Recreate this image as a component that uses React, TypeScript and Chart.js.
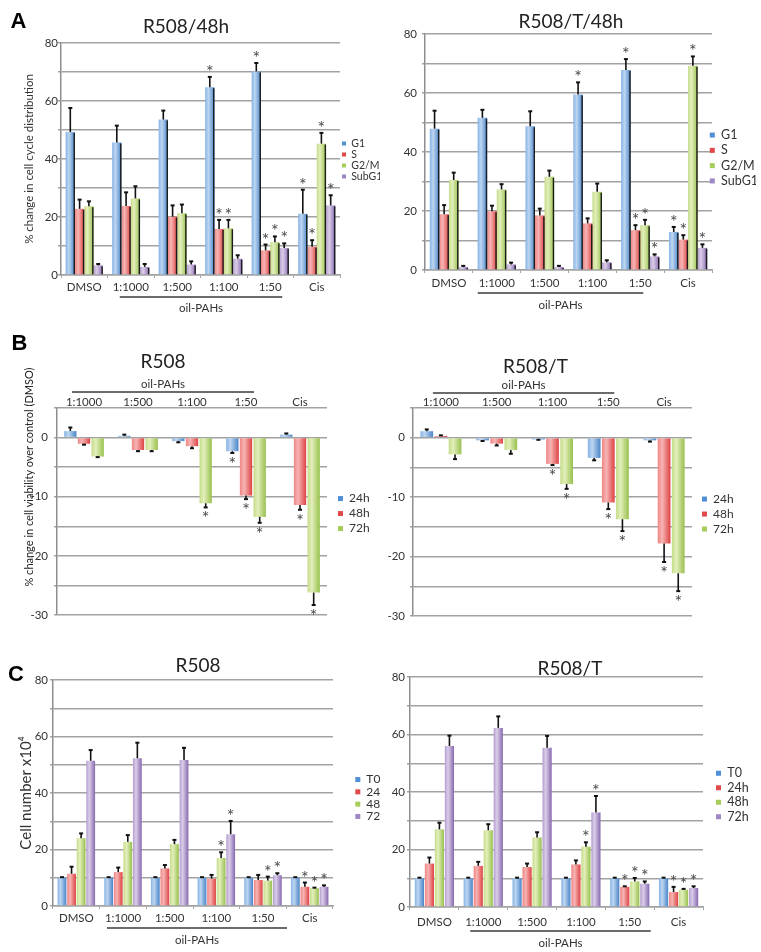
import React, { useEffect, useRef } from 'react';
import { Chart, registerables } from 'chart.js';

Chart.register(...registerables);

const FONT = 'Lato, "Open Sans", "Noto Sans", sans-serif';
Chart.defaults.font.family = FONT;

// ---------------- DATA ----------------
const CELL_CYCLE_CATEGORIES = ['DMSO', '1:1000', '1:500', '1:100', '1:50', 'Cis'];
const VIABILITY_CATEGORIES = ['1:1000', '1:500', '1:100', '1:50', 'Cis'];
const CELL_NUMBER_CATEGORIES = ['DMSO', '1:1000', '1:500', '1:100', '1:50', 'Cis'];

const CYCLE_SERIES = ['G1', 'S', 'G2/M', 'SubG1'];
const VIABILITY_SERIES = ['24h', '48h', '72h'];
const NUMBER_SERIES = ['T0', '24h', '48h', '72h'];

const CYCLE_TICKS = [0, 20, 40, 60, 80];
const VIABILITY_TICKS = [0, -10, -20, -30];
const NUMBER_TICKS = [0, 20, 40, 60, 80];

// A: R508/48h
const R508_CYCLE_G1 = [49.3, 45.7, 53.6, 64.7, 70.2, 21.1];
const R508_CYCLE_G1_ERR = [8.3, 5.8, 3.1, 3.6, 2.9, 8.3];
const R508_CYCLE_G1_SIG = [0, 0, 0, 1, 1, 1];
const R508_CYCLE_S = [22.8, 23.8, 20.1, 15.9, 8.5, 9.7];
const R508_CYCLE_S_ERR = [3.2, 4.7, 3.9, 3.1, 2.0, 2.3];
const R508_CYCLE_S_SIG = [0, 0, 0, 1, 1, 1];
const R508_CYCLE_G2M = [23.7, 26.4, 21.3, 16.1, 11.3, 45.3];
const R508_CYCLE_G2M_ERR = [1.7, 4.2, 3.0, 2.9, 2.0, 3.7];
const R508_CYCLE_G2M_SIG = [0, 0, 0, 1, 1, 1];
const R508_CYCLE_SUBG1 = [3.3, 2.8, 3.6, 5.6, 9.3, 24.0];
const R508_CYCLE_SUBG1_ERR = [0.5, 1.0, 1.1, 1.2, 1.6, 3.5];
const R508_CYCLE_SUBG1_SIG = [0, 0, 0, 0, 1, 1];

// A: R508/T/48h
const R508T_CYCLE_G1 = [47.9, 51.6, 48.7, 59.5, 67.8, 12.9];
const R508T_CYCLE_G1_ERR = [6.1, 2.7, 5.1, 4.1, 3.7, 1.7];
const R508T_CYCLE_G1_SIG = [0, 0, 0, 1, 1, 1];
const R508T_CYCLE_S = [18.9, 19.9, 18.5, 15.8, 13.5, 10.3];
const R508T_CYCLE_S_ERR = [3.1, 1.9, 2.3, 1.7, 1.7, 1.5];
const R508T_CYCLE_S_SIG = [0, 0, 0, 0, 1, 1];
const R508T_CYCLE_G2M = [30.5, 27.3, 31.6, 26.5, 15.2, 69.2];
const R508T_CYCLE_G2M_ERR = [2.5, 1.8, 2.1, 2.8, 1.8, 3.2];
const R508T_CYCLE_G2M_SIG = [0, 0, 0, 0, 1, 1];
const R508T_CYCLE_SUBG1 = [1.0, 1.9, 1.0, 2.6, 4.6, 7.5];
const R508T_CYCLE_SUBG1_ERR = [0.4, 0.6, 0.4, 0.7, 0.7, 1.2];
const R508T_CYCLE_SUBG1_SIG = [0, 0, 0, 0, 1, 1];

// B: R508 viability
const R508_VIA_24H = [1.1, 0.3, -0.6, -2.3, 0.5];
const R508_VIA_24H_ERR = [0.6, 0.2, 0.2, 0.3, 0.2];
const R508_VIA_24H_SIG = [0, 0, 0, 1, 0];
const R508_VIA_48H = [-1.05, -2.1, -1.45, -9.8, -11.4];
const R508_VIA_48H_ERR = [0.15, 0.2, 0.35, 0.6, 0.8];
const R508_VIA_48H_SIG = [0, 0, 0, 1, 1];
const R508_VIA_72H = [-3.2, -2.1, -11.1, -13.4, -26.2];
const R508_VIA_72H_ERR = [0.1, 0.2, 0.7, 1.0, 2.1];
const R508_VIA_72H_SIG = [0, 0, 1, 1, 1];

// B: R508/T viability
const R508T_VIA_24H = [1.1, -0.45, -0.3, -3.4, -0.45];
const R508T_VIA_24H_ERR = [0.3, 0.1, 0.05, 0.4, 0.2];
const R508T_VIA_24H_SIG = [0, 0, 0, 0, 0];
const R508T_VIA_48H = [0.3, -1.0, -4.4, -10.9, -17.8];
const R508T_VIA_48H_ERR = [0.1, 0.3, 0.2, 1.1, 3.1];
const R508T_VIA_48H_SIG = [0, 0, 1, 1, 1];
const R508T_VIA_72H = [-2.8, -2.05, -7.8, -13.7, -22.8];
const R508T_VIA_72H_ERR = [0.8, 0.65, 0.8, 2.0, 3.0];
const R508T_VIA_72H_SIG = [0, 0, 1, 1, 1];

// C: R508 cell number
const R508_NUM_T0 = [10, 10, 10, 10, 10, 10];
const R508_NUM_T0_ERR = [0.2, 0.2, 0.2, 0.2, 0.2, 0.2];
const R508_NUM_T0_SIG = [0, 0, 0, 0, 0, 0];
const R508_NUM_24H = [11.4, 12.0, 13.3, 9.7, 9.2, 6.8];
const R508_NUM_24H_ERR = [2.5, 1.6, 1.2, 1.3, 1.8, 1.5];
const R508_NUM_24H_SIG = [0, 0, 0, 0, 0, 1];
const R508_NUM_48H = [24.0, 22.7, 21.9, 17.0, 9.0, 6.3];
const R508_NUM_48H_ERR = [1.7, 2.4, 1.5, 2.0, 1.4, 0.2];
const R508_NUM_48H_SIG = [0, 0, 0, 1, 1, 1];
const R508_NUM_72H = [51.4, 52.3, 51.7, 25.4, 10.9, 6.8];
const R508_NUM_72H_ERR = [3.8, 5.5, 4.3, 4.7, 0.7, 0.5];
const R508_NUM_72H_SIG = [0, 0, 0, 1, 1, 1];

// C: R508/T cell number
const R508T_NUM_T0 = [10, 10, 10, 10, 10, 10];
const R508T_NUM_T0_ERR = [0.2, 0.2, 0.2, 0.2, 0.2, 0.2];
const R508T_NUM_T0_SIG = [0, 0, 0, 0, 0, 0];
const R508T_NUM_24H = [15.1, 14.3, 13.9, 14.8, 7.0, 5.2];
const R508T_NUM_24H_ERR = [2.1, 1.4, 1.2, 1.4, 0.2, 1.8];
const R508T_NUM_24H_SIG = [0, 0, 0, 0, 1, 1];
const R508T_NUM_48H = [27.0, 26.7, 24.2, 21.0, 8.9, 6.0];
const R508T_NUM_48H_ERR = [2.3, 2.1, 1.8, 1.5, 1.2, 0.3];
const R508T_NUM_48H_SIG = [0, 0, 0, 1, 1, 1];
const R508T_NUM_72H = [56.0, 62.3, 55.4, 32.9, 8.1, 6.6];
const R508T_NUM_72H_ERR = [3.6, 4.0, 4.1, 5.7, 0.8, 0.6];
const R508T_NUM_72H_SIG = [0, 0, 0, 1, 1, 1];

// ---------------- STYLE ----------------
const GRADS: Record<string, { legend: string; stops: string[] }> = {
  blue: { legend: '#4f8fd6', stops: ['#86b3e4', '#bdd6f1', '#4a84c8'] },
  red: { legend: '#e04a4a', stops: ['#ee8585', '#f7b4b4', '#de4343'] },
  green: { legend: '#a6cc5a', stops: ['#c4dc88', '#e3efbb', '#98c04e'] },
  purple: { legend: '#9f86c6', stops: ['#b49ecf', '#dacde8', '#8769b0'] },
};
const GRID = '#a2a2a2';
const TEXT = '#333333';

type Series = { label: string; data: number[]; err: number[]; sig: number[]; color: string };
type Spec = {
  x: number; y: number; w: number; h: number;
  area: { L: number; T: number; R: number; B: number };
  labels: string[];
  series: Series[];
  yMin: number; yMax: number; yStep: number; yLabels: number[];
  xPos: 'top' | 'bottom'; xHeight: number; xPad: number; yTickPad: number;
  yTitle?: { text: string; size: number; pad: number };
  catPct: number; barPct: number;
  legend: { font: number; pad: number; box: number; dx: number; dy: number };
  bracket: { from: number; to: number; l: number; r: number; lineOff: number; textOff: number };
  shadow: boolean;
};

const mk = (labels: string[], data: number[][], err: number[][], sig: number[][], colors: string[]): Series[] =>
  labels.map((label, i) => ({ label, data: data[i], err: err[i], sig: sig[i], color: colors[i] }));

const PANELS: Spec[] = [
  {
    x: 0, y: 0, w: 380, h: 320, area: { L: 61, T: 43, R: 340, B: 275 },
    labels: CELL_CYCLE_CATEGORIES,
    series: mk(CYCLE_SERIES,
      [R508_CYCLE_G1, R508_CYCLE_S, R508_CYCLE_G2M, R508_CYCLE_SUBG1],
      [R508_CYCLE_G1_ERR, R508_CYCLE_S_ERR, R508_CYCLE_G2M_ERR, R508_CYCLE_SUBG1_ERR],
      [R508_CYCLE_G1_SIG, R508_CYCLE_S_SIG, R508_CYCLE_G2M_SIG, R508_CYCLE_SUBG1_SIG],
      ['blue', 'red', 'green', 'purple']),
    yMin: 0, yMax: 80, yStep: 10, yLabels: CYCLE_TICKS,
    xPos: 'bottom', xHeight: 20, xPad: 2.5, yTickPad: 0,
    yTitle: { text: '% change in cell cycle distribution', size: 11.5, pad: 22 },
    catPct: 0.8, barPct: 1,
    legend: { font: 10.5, pad: 0.5, box: 4, dx: 1.5, dy: 1 },
    bracket: { from: 1, to: 4, l: -11, r: 12, lineOff: 22, textOff: 33 },
    shadow: true,
  },
  {
    x: 380, y: 0, w: 381, h: 320, area: { L: 425, T: 34, R: 712, B: 270 },
    labels: CELL_CYCLE_CATEGORIES,
    series: mk(CYCLE_SERIES,
      [R508T_CYCLE_G1, R508T_CYCLE_S, R508T_CYCLE_G2M, R508T_CYCLE_SUBG1],
      [R508T_CYCLE_G1_ERR, R508T_CYCLE_S_ERR, R508T_CYCLE_G2M_ERR, R508T_CYCLE_SUBG1_ERR],
      [R508T_CYCLE_G1_SIG, R508T_CYCLE_S_SIG, R508T_CYCLE_G2M_SIG, R508T_CYCLE_SUBG1_SIG],
      ['blue', 'red', 'green', 'purple']),
    yMin: 0, yMax: 80, yStep: 10, yLabels: CYCLE_TICKS,
    xPos: 'bottom', xHeight: 20, xPad: 3, yTickPad: 5,
    catPct: 0.8, barPct: 1,
    legend: { font: 12.5, pad: 2.8, box: 5, dx: -5, dy: 6 },
    bracket: { from: 1, to: 4, l: -19, r: 3, lineOff: 23, textOff: 35 },
    shadow: true,
  },
  {
    x: 0, y: 318, w: 380, h: 310, area: { L: 57, T: 408, R: 327, B: 619 },
    labels: VIABILITY_CATEGORIES,
    series: mk(VIABILITY_SERIES,
      [R508_VIA_24H, R508_VIA_48H, R508_VIA_72H],
      [R508_VIA_24H_ERR, R508_VIA_48H_ERR, R508_VIA_72H_ERR],
      [R508_VIA_24H_SIG, R508_VIA_48H_SIG, R508_VIA_72H_SIG],
      ['blue', 'red', 'green']),
    yMin: -30, yMax: 5, yStep: 5, yLabels: VIABILITY_TICKS,
    xPos: 'top', xHeight: 14, xPad: -1.5, yTickPad: 6,
    catPct: 0.76, barPct: 0.9,
    legend: { font: 12, pad: 3, box: 5, dx: 8, dy: 2 },
    bracket: { from: 0, to: 3, l: -12, r: 8, lineOff: -16, textOff: -24 },
    shadow: false,
  },
  {
    x: 380, y: 318, w: 381, h: 310, area: { L: 413, T: 408, R: 692, B: 619 },
    labels: VIABILITY_CATEGORIES,
    series: mk(VIABILITY_SERIES,
      [R508T_VIA_24H, R508T_VIA_48H, R508T_VIA_72H],
      [R508T_VIA_24H_ERR, R508T_VIA_48H_ERR, R508T_VIA_72H_ERR],
      [R508T_VIA_24H_SIG, R508T_VIA_48H_SIG, R508T_VIA_72H_SIG],
      ['blue', 'red', 'green']),
    yMin: -30, yMax: 5, yStep: 5, yLabels: VIABILITY_TICKS,
    xPos: 'top', xHeight: 14, xPad: -1.5, yTickPad: 5,
    catPct: 0.76, barPct: 0.9,
    legend: { font: 12, pad: 3, box: 5, dx: 7, dy: 2 },
    bracket: { from: 0, to: 3, l: -8, r: 6, lineOff: -15, textOff: -23 },
    shadow: false,
  },
  {
    x: 0, y: 628, w: 380, h: 324, area: { L: 53, T: 680, R: 333, B: 906 },
    labels: CELL_NUMBER_CATEGORIES,
    series: mk(NUMBER_SERIES,
      [R508_NUM_T0, R508_NUM_24H, R508_NUM_48H, R508_NUM_72H],
      [R508_NUM_T0_ERR, R508_NUM_24H_ERR, R508_NUM_48H_ERR, R508_NUM_72H_ERR],
      [R508_NUM_T0_SIG, R508_NUM_24H_SIG, R508_NUM_48H_SIG, R508_NUM_72H_SIG],
      ['blue', 'red', 'green', 'purple']),
    yMin: 0, yMax: 80, yStep: 10, yLabels: NUMBER_TICKS,
    xPos: 'bottom', xHeight: 20, xPad: 2, yTickPad: 2,
    yTitle: { text: 'Cell number x10\u2074', size: 15, pad: 17 },
    catPct: 0.82, barPct: 0.92,
    legend: { font: 12, pad: 0.3, box: 5, dx: 22, dy: 5 },
    bracket: { from: 1, to: 4, l: -16, r: 24, lineOff: 22, textOff: 34 },
    shadow: false,
  },
  {
    x: 380, y: 628, w: 381, h: 324, area: { L: 410, T: 677, R: 703, B: 907 },
    labels: CELL_NUMBER_CATEGORIES,
    series: mk(NUMBER_SERIES,
      [R508T_NUM_T0, R508T_NUM_24H, R508T_NUM_48H, R508T_NUM_72H],
      [R508T_NUM_T0_ERR, R508T_NUM_24H_ERR, R508T_NUM_48H_ERR, R508T_NUM_72H_ERR],
      [R508T_NUM_T0_SIG, R508T_NUM_24H_SIG, R508T_NUM_48H_SIG, R508T_NUM_72H_SIG],
      ['blue', 'red', 'green', 'purple']),
    yMin: 0, yMax: 80, yStep: 10, yLabels: NUMBER_TICKS,
    xPos: 'bottom', xHeight: 20, xPad: 5, yTickPad: 2,
    catPct: 0.82, barPct: 0.92,
    legend: { font: 12.5, pad: 2, box: 5, dx: 11, dy: 3 },
    bracket: { from: 1, to: 4, l: -13, r: 21, lineOff: 24, textOff: 36 },
    shadow: false,
  },
];

type Txt = { t: string; x: number; y: number; size: number; bold?: boolean; rot?: boolean; family?: string };
const TEXTS: Txt[] = [
  { t: 'A', x: 18.5, y: 21, size: 22, bold: true, family: '"Liberation Sans", Arial, sans-serif' },
  { t: 'B', x: 19.5, y: 342.5, size: 22, bold: true, family: '"Liberation Sans", Arial, sans-serif' },
  { t: 'C', x: 16, y: 673.5, size: 22, bold: true, family: '"Liberation Sans", Arial, sans-serif' },
  { t: 'R508/48h', x: 186, y: 24.5, size: 19 },
  { t: 'R508/T/48h', x: 571, y: 20, size: 19 },
  { t: 'R508', x: 163, y: 360, size: 19 },
  { t: 'R508/T', x: 535.5, y: 364.5, size: 19 },
  { t: 'R508', x: 198, y: 664, size: 19 },
  { t: 'R508/T', x: 570, y: 667, size: 19 },
  { t: '% change in cell viability over control (DMSO)', x: 28, y: 477, size: 11, rot: true },
];

function buildConfig(s: Spec): any {
  const padTop = s.xPos === 'top' ? s.area.T - s.y - s.xHeight : s.area.T - s.y;
  const padBottom = s.xPos === 'bottom' ? s.y + s.h - s.area.B - s.xHeight : s.y + s.h - s.area.B;
  const yWidth = s.area.L - s.x;
  const legendW = s.x + s.w - s.area.R;

  const datasets = s.series.map((ser) => ({
    label: ser.label,
    data: ser.data,
    errs: ser.err,
    sig: ser.sig,
    gradKey: ser.color,
    backgroundColor: () => GRADS[ser.color].legend,
    borderWidth: 0,
    categoryPercentage: s.catPct,
    barPercentage: s.barPct,
  }));

  const decor = {
    id: 'decor',
    beforeLayout(chart: any) {
      const lg = chart.legend;
      if (lg && !lg.__patched) {
        const orig = lg.fit.bind(lg);
        lg.fit = function () {
          orig();
          this.width = legendW;
        };
        lg.__patched = true;
      }
    },
    afterLayout(chart: any) {
      const lg = chart.legend;
      if (lg) {
        lg.left += s.legend.dx;
        lg.right += s.legend.dx;
        lg.top += s.legend.dy;
        lg.bottom += s.legend.dy;
      }
    },
    beforeDatasetsDraw(chart: any) {
      const ctx = chart.ctx;
      chart.data.datasets.forEach((ds: any, di: number) => {
        const meta = chart.getDatasetMeta(di);
        const stops = GRADS[ds.gradKey].stops;
        meta.data.forEach((el: any) => {
          const { x, width } = el.getProps(['x', 'width'], true);
          const left = x - width / 2;
          const g = ctx.createLinearGradient(left, 0, left + width, 0);
          g.addColorStop(0, stops[0]);
          g.addColorStop(0.35, stops[1]);
          g.addColorStop(1, stops[2]);
          el.options.backgroundColor = g;
        });
      });
    },
    afterDatasetsDraw(chart: any) {
      const ctx = chart.ctx;
      const ys = chart.scales.y;
      ctx.save();
      chart.data.datasets.forEach((ds: any, di: number) => {
        const meta = chart.getDatasetMeta(di);
        meta.data.forEach((el: any, j: number) => {
          const v = ds.data[j];
          const e = ds.errs[j];
          const { x, y, base, width } = el.getProps(['x', 'y', 'base', 'width'], true);
          if (s.shadow && v > 0) {
            ctx.beginPath();
            ctx.strokeStyle = '#1c1c1c';
            ctx.lineWidth = 1.4;
            const sx = x + width / 2 - 0.7;
            ctx.moveTo(sx, y + 1);
            ctx.lineTo(sx, base);
            ctx.stroke();
          }
          const end = v >= 0 ? v + e : v - e;
          const ey = ys.getPixelForValue(end);
          ctx.beginPath();
          ctx.strokeStyle = '#111111';
          ctx.lineWidth = 1.6;
          ctx.moveTo(x, y);
          ctx.lineTo(x, ey);
          ctx.stroke();
          ctx.beginPath();
          ctx.lineWidth = 2;
          ctx.moveTo(x - 2, ey);
          ctx.lineTo(x + 2, ey);
          ctx.stroke();
          if (ds.sig[j]) {
            ctx.fillStyle = '#4a4a4a';
            ctx.font = `18px ${FONT}`;
            ctx.textAlign = 'center';
            ctx.textBaseline = 'alphabetic';
            ctx.fillText('*', x, v >= 0 ? ey + 1 : ey + 17);
          }
        });
      });
      ctx.restore();
    },
    afterDraw(chart: any) {
      const ctx = chart.ctx;
      const xs = chart.scales.x;
      const b = s.bracket;
      const x0 = xs.getPixelForValue(b.from) + b.l;
      const x1 = xs.getPixelForValue(b.to) + b.r;
      const edge = s.xPos === 'bottom' ? chart.chartArea.bottom : chart.chartArea.top;
      ctx.save();
      ctx.beginPath();
      ctx.strokeStyle = '#3a3a3a';
      ctx.lineWidth = 1.3;
      ctx.moveTo(x0, edge + b.lineOff);
      ctx.lineTo(x1, edge + b.lineOff);
      ctx.stroke();
      ctx.fillStyle = TEXT;
      ctx.font = `11.5px ${FONT}`;
      ctx.textAlign = 'center';
      ctx.textBaseline = 'middle';
      ctx.fillText('oil-PAHs', (x0 + x1) / 2, edge + b.textOff);
      ctx.restore();
    },
  };

  return {
    type: 'bar',
    data: { labels: s.labels, datasets },
    plugins: [decor],
    options: {
      responsive: false,
      animation: false,
      devicePixelRatio: 1,
      layout: { padding: { left: 0, right: 0, top: padTop, bottom: padBottom } },
      scales: {
        x: {
          position: s.xPos,
          grid: {
            display: s.xPos === 'bottom',
            drawOnChartArea: false,
            drawTicks: s.xPos === 'bottom',
            tickLength: 3,
            color: GRID,
            lineWidth: 1,
          },
          border: { display: s.xPos === 'bottom', color: GRID, width: 1.5 },
          ticks: {
            font: { size: 11.5 },
            color: TEXT,
            padding: s.xPad,
            autoSkip: false,
            maxRotation: 0,
            minRotation: 0,
          },
          afterFit: (sc: any) => {
            sc.height = s.xHeight;
          },
        },
        y: {
          min: s.yMin,
          max: s.yMax,
          ticks: {
            stepSize: s.yStep,
            font: { size: 11.5 },
            color: TEXT,
            padding: s.yTickPad,
            callback: (v: any) => (s.yLabels.includes(Number(v)) ? String(v) : ''),
          },
          grid: { color: GRID, lineWidth: 1.5, tickLength: 3 },
          border: { display: true, color: '#8e8e8e', width: 1.5 },
          title: s.yTitle
            ? {
                display: true,
                text: s.yTitle.text,
                font: { size: s.yTitle.size },
                color: TEXT,
                padding: { top: s.yTitle.pad, bottom: 0 },
              }
            : { display: false },
          afterFit: (sc: any) => {
            sc.width = yWidth;
          },
        },
      },
      plugins: {
        legend: {
          position: 'right',
          fullSize: false,
          align: 'center',
          labels: {
            boxWidth: s.legend.box,
            boxHeight: s.legend.box,
            padding: s.legend.pad,
            color: TEXT,
            font: { size: s.legend.font },
          },
        },
        tooltip: { enabled: false },
        title: { display: false },
      },
    },
  };
}

function ChartPanel({ spec }: { spec: Spec }) {
  const ref = useRef<HTMLCanvasElement | null>(null);
  useEffect(() => {
    if (!ref.current) return;
    const chart = new Chart(ref.current, buildConfig(spec));
    return () => chart.destroy();
  }, [spec]);
  return (
    <div style={{ position: 'absolute', left: spec.x, top: spec.y, width: spec.w, height: spec.h }}>
      <canvas ref={ref} width={spec.w} height={spec.h} style={{ display: 'block', width: spec.w, height: spec.h }} />
    </div>
  );
}

export default function App() {
  return (
    <div style={{ position: 'absolute', left: 0, top: 0, width: 761, height: 952, background: '#ffffff', overflow: 'hidden' }}>
      {PANELS.map((p, i) => (
        <ChartPanel key={i} spec={p} />
      ))}
      {TEXTS.map((t, i) => (
        <div
          key={'t' + i}
          style={{
            position: 'absolute',
            left: t.x,
            top: t.y,
            transform: `translate(-50%, -50%)${t.rot ? ' rotate(-90deg)' : ''}`,
            whiteSpace: 'nowrap',
            fontFamily: t.family || FONT,
            fontSize: t.size,
            fontWeight: t.bold ? 700 : 400,
            lineHeight: 1,
            color: t.bold ? '#000000' : '#222222',
          }}
        >
          {t.t}
        </div>
      ))}
    </div>
  );
}
